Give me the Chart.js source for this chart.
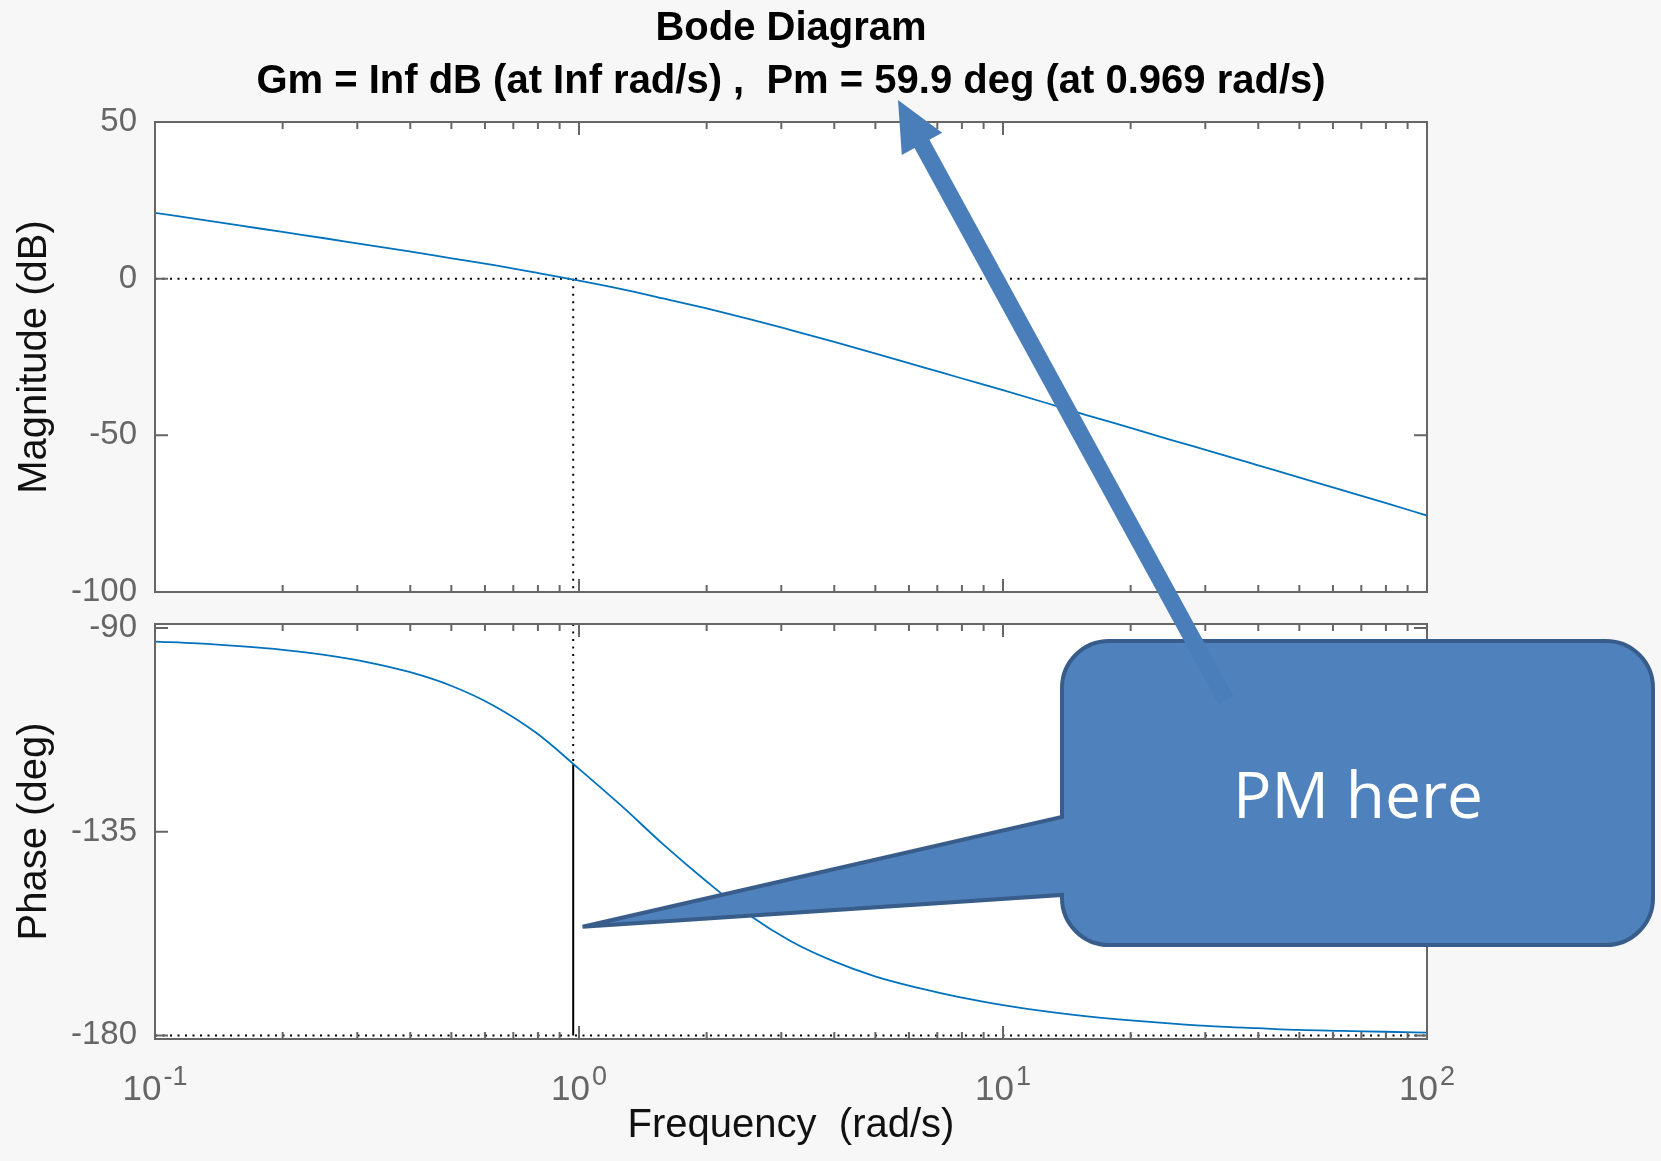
<!DOCTYPE html>
<html>
<head>
<meta charset="utf-8">
<title>Bode Diagram</title>
<script src="https://cdn.jsdelivr.net/npm/chart.js@4.4.1/dist/chart.umd.min.js"></script>
<style>
  html, body { margin: 0; padding: 0; background: #f7f7f7; }
  #page { position: relative; width: 1661px; height: 1161px; overflow: hidden; }
  #page canvas { position: absolute; left: 0; }
  #mag-chart { top: 0; }
  #phase-chart { top: 580px; }
  #overlay { top: 0; pointer-events: none; }
</style>
</head>
<body>
<div id="page">
  <canvas id="mag-chart" width="1661" height="640"></canvas>
  <canvas id="phase-chart" width="1661" height="581"></canvas>
  <canvas id="overlay" width="1661" height="1161"></canvas>
</div>
<script>
// values (about 10 points per decade)
const FREQ = [0.1, 0.126, 0.158, 0.2, 0.251, 0.316, 0.398, 0.501, 0.631, 0.794,
              1, 1.26, 1.58, 2, 2.51, 3.16, 3.98, 5.01, 6.31, 7.94,
              10, 12.6, 15.8, 20, 25.1, 31.6, 39.8, 50.1, 63.1, 79.4, 100];
const MAG_DB = [21.0, 19.0, 17.0, 14.9, 12.9, 10.8, 8.7, 6.5, 4.3, 1.9,
                -0.6, -3.3, -6.3, -9.5, -12.8, -16.4, -20.1, -23.9, -27.8, -31.7,
                -35.6, -39.6, -43.6, -47.6, -51.6, -55.5, -59.5, -63.5, -67.5, -71.5, -75.6];
const PHASE_DEG = [-93.0, -93.4, -94.0, -94.8, -95.9, -97.5, -99.7, -102.8, -107.2, -113.2,
                   -121.1, -129.3, -137.8, -146.0, -153.3, -159.2, -163.6, -167.0, -169.5, -171.6,
                   -173.3, -174.7, -175.8, -176.7, -177.4, -178.0, -178.4, -178.8, -179.0, -179.2, -179.4];

const FREQ_DECADES = [0.1, 1, 10, 100];
const MAG_TICKS    = [-100, -50, 0, 50];
const PHASE_TICKS  = [-180, -135, -90];

const WC = 0.969;   // gain crossover (rad/s)
const PM = 59.9;    // phase margin (deg)
const TITLE_LINES = ['Bode Diagram', 'Gm = Inf dB (at Inf rad/s) ,  Pm = 59.9 deg (at 0.969 rad/s)'];

const FONT = '"Liberation Sans", Arial, Helvetica, sans-serif';
const AXIS_COLOR = '#666666';
const LINE_COLOR = '#0072BD';
Chart.defaults.font.family = FONT;

const pts = (ys) => FREQ.map((f, i) => ({ x: f, y: ys[i] }));

// white plot area, inward ticks on all four sides and the box (MATLAB look)
const matlabBox = {
  id: 'matlabBox',
  beforeDraw(chart) {
    const { ctx, chartArea: a } = chart;
    ctx.save();
    ctx.fillStyle = '#ffffff';
    ctx.fillRect(a.left, a.top, a.right - a.left, a.bottom - a.top);
    ctx.restore();
  },
  afterDatasetsDraw(chart) {
    const { ctx, chartArea: a, scales } = chart;
    ctx.save();
    ctx.strokeStyle = AXIS_COLOR;
    ctx.lineWidth = 2;
    ctx.beginPath();
    FREQ_DECADES.forEach(d => {
      for (let m = 1; m <= 9; m++) {
        const v = d * m;
        if (v > 100.0001) break;
        const px = scales.x.getPixelForValue(v);
        const len = m === 1 ? 13 : 7;
        ctx.moveTo(px, a.bottom); ctx.lineTo(px, a.bottom - len);
        ctx.moveTo(px, a.top);    ctx.lineTo(px, a.top + len);
      }
    });
    scales.y.ticks.forEach(t => {
      const py = scales.y.getPixelForValue(t.value);
      ctx.moveTo(a.left, py);  ctx.lineTo(a.left + 13, py);
      ctx.moveTo(a.right, py); ctx.lineTo(a.right - 13, py);
    });
    ctx.stroke();
    ctx.strokeRect(a.left, a.top, a.right - a.left, a.bottom - a.top);
    ctx.restore();
  },
  afterDraw(chart) {
    if (!chart.options.plugins.matlabBox.decadeLabels) return;
    // 10^n labels with a raised exponent
    const { ctx, chartArea: a, scales } = chart;
    ctx.save();
    ctx.fillStyle = AXIS_COLOR;
    ctx.textAlign = 'left';
    ctx.textBaseline = 'alphabetic';
    scales.x.ticks.forEach(t => {
      const exp = String(Math.round(Math.log10(t.value)));
      ctx.font = '35px ' + FONT;
      const wb = ctx.measureText('10').width;
      ctx.font = '27px ' + FONT;
      const we = ctx.measureText(exp).width;
      const x0 = scales.x.getPixelForValue(t.value) - (wb + 2 + we) / 2;
      ctx.font = '35px ' + FONT;
      ctx.fillText('10', x0, a.bottom + 61);
      ctx.font = '27px ' + FONT;
      ctx.fillText(exp, x0 + wb + 2, a.bottom + 46);
    });
    ctx.restore();
  }
};

function yAxis(min, max, ticks, title) {
  return {
    min, max,
    afterBuildTicks: s => { s.ticks = ticks.map(v => ({ value: v })); },
    afterFit: s => { s.width = 155; },
    grid: { display: false, drawTicks: false },
    border: { display: false },
    ticks: { color: AXIS_COLOR, font: { size: 33 }, padding: 18, callback: v => String(v) },
    title: { display: true, text: title, color: '#111', font: { size: 40 }, padding: { top: 11, bottom: 0 } }
  };
}

function refLine(data, dashed) {
  return {
    data, borderColor: '#000', borderWidth: 2, pointRadius: 0,
    borderDash: dashed ? [2, 5.5] : [], fill: false
  };
}

const baseOpts = { responsive: false, animation: false, events: [] };

const magChart = new Chart(document.getElementById('mag-chart'), {
  type: 'line',
  data: {
    datasets: [
      { data: pts(MAG_DB), borderColor: LINE_COLOR, borderWidth: 1.8, pointRadius: 0, cubicInterpolationMode: 'monotone' },
      refLine([{ x: 0.1, y: 0 }, { x: 100, y: 0 }], true),
      refLine([{ x: WC, y: 0 }, { x: WC, y: -100 }], true)
    ]
  },
  options: {
    ...baseOpts,
    layout: { padding: { left: 0, right: 234, top: 0, bottom: 48 } },
    plugins: {
      legend: { display: false },
      tooltip: { enabled: false },
      title: {
        display: true, text: TITLE_LINES, fullSize: false, color: '#000',
        font: { size: 40, weight: 'bold', lineHeight: 1.34 },
        padding: { top: 2, bottom: 12.8 }
      },
      matlabBox: { decadeLabels: false }
    },
    scales: {
      x: { type: 'logarithmic', min: 0.1, max: 100, display: false },
      y: yAxis(-100, 50, MAG_TICKS, 'Magnitude (dB)')
    }
  },
  plugins: [matlabBox]
});

const pmPhase = -180 + PM;
const phaseChart = new Chart(document.getElementById('phase-chart'), {
  type: 'line',
  data: {
    datasets: [
      { data: pts(PHASE_DEG), borderColor: LINE_COLOR, borderWidth: 1.8, pointRadius: 0, cubicInterpolationMode: 'monotone' },
      refLine([{ x: 0.1, y: -180 }, { x: 100, y: -180 }], true),
      refLine([{ x: WC, y: -89.1 }, { x: WC, y: pmPhase }], true),
      refLine([{ x: WC, y: pmPhase }, { x: WC, y: -180 }], false)
    ]
  },
  options: {
    ...baseOpts,
    layout: { padding: { left: 0, right: 234, top: 44, bottom: 0 } },
    plugins: {
      legend: { display: false },
      tooltip: { enabled: false },
      matlabBox: { decadeLabels: true }
    },
    scales: {
      x: {
        type: 'logarithmic', min: 0.1, max: 100,
        afterBuildTicks: s => { s.ticks = FREQ_DECADES.map(v => ({ value: v })); },
        afterFit: s => { s.height = 122; },
        grid: { display: false, drawTicks: false },
        border: { display: false },
        ticks: { display: false },
        title: { display: true, text: 'Frequency  (rad/s)', color: '#111', font: { size: 40 }, padding: { top: 0, bottom: 11 } }
      },
      y: yAxis(-180.8, -89.1, PHASE_TICKS, 'Phase (deg)')
    }
  },
  plugins: [matlabBox]
});

// annotation: callout box + arrow drawn on top of both axes
function drawAnnotations() {
  const ctx = document.getElementById('overlay').getContext('2d');
  const top = 580;
  const tipX = phaseChart.scales.x.getPixelForValue(1.02);
  const tipY = top + phaseChart.scales.y.getPixelForValue(-156);

  const L = 1062, R = 1653, T = 641, B = 945, r = 47;
  ctx.save();
  ctx.beginPath();
  ctx.moveTo(L + r, T);
  ctx.lineTo(R - r, T);
  ctx.arcTo(R, T, R, T + r, r);
  ctx.lineTo(R, B - r);
  ctx.arcTo(R, B, R - r, B, r);
  ctx.lineTo(L + r, B);
  ctx.arcTo(L, B, L, B - r, r);
  ctx.lineTo(L, 895);
  ctx.lineTo(tipX, tipY);
  ctx.lineTo(L, 817);
  ctx.lineTo(L, T + r);
  ctx.arcTo(L, T, L + r, T, r);
  ctx.closePath();
  ctx.fillStyle = '#4F81BD';
  ctx.fill();
  ctx.lineWidth = 4;
  ctx.strokeStyle = '#385D8A';
  ctx.stroke();

  ctx.fillStyle = '#ffffff';
  ctx.font = '64px "Open Sans", "Noto Sans", sans-serif';
  ctx.textAlign = 'center';
  ctx.textBaseline = 'alphabetic';
  ctx.fillText('PM here', 1358, 818);

  // arrow from the callout up to the Pm value in the title
  const tail = { x: 1226, y: 700 }, head = { x: 898, y: 100 };
  const len = Math.hypot(head.x - tail.x, head.y - tail.y);
  const ux = (head.x - tail.x) / len, uy = (head.y - tail.y) / len;
  const hl = 50, hw = 23;
  const bx = head.x - ux * hl, by = head.y - uy * hl;
  ctx.strokeStyle = '#4A7EBB';
  ctx.fillStyle = '#4A7EBB';
  ctx.lineWidth = 17;
  ctx.lineCap = 'butt';
  ctx.beginPath();
  ctx.moveTo(tail.x, tail.y);
  ctx.lineTo(bx + ux * 2, by + uy * 2);
  ctx.stroke();
  ctx.beginPath();
  ctx.moveTo(head.x, head.y);
  ctx.lineTo(bx - uy * hw, by + ux * hw);
  ctx.lineTo(bx + uy * hw, by - ux * hw);
  ctx.closePath();
  ctx.fill();
  ctx.restore();
}

drawAnnotations();
</script>
</body>
</html>
